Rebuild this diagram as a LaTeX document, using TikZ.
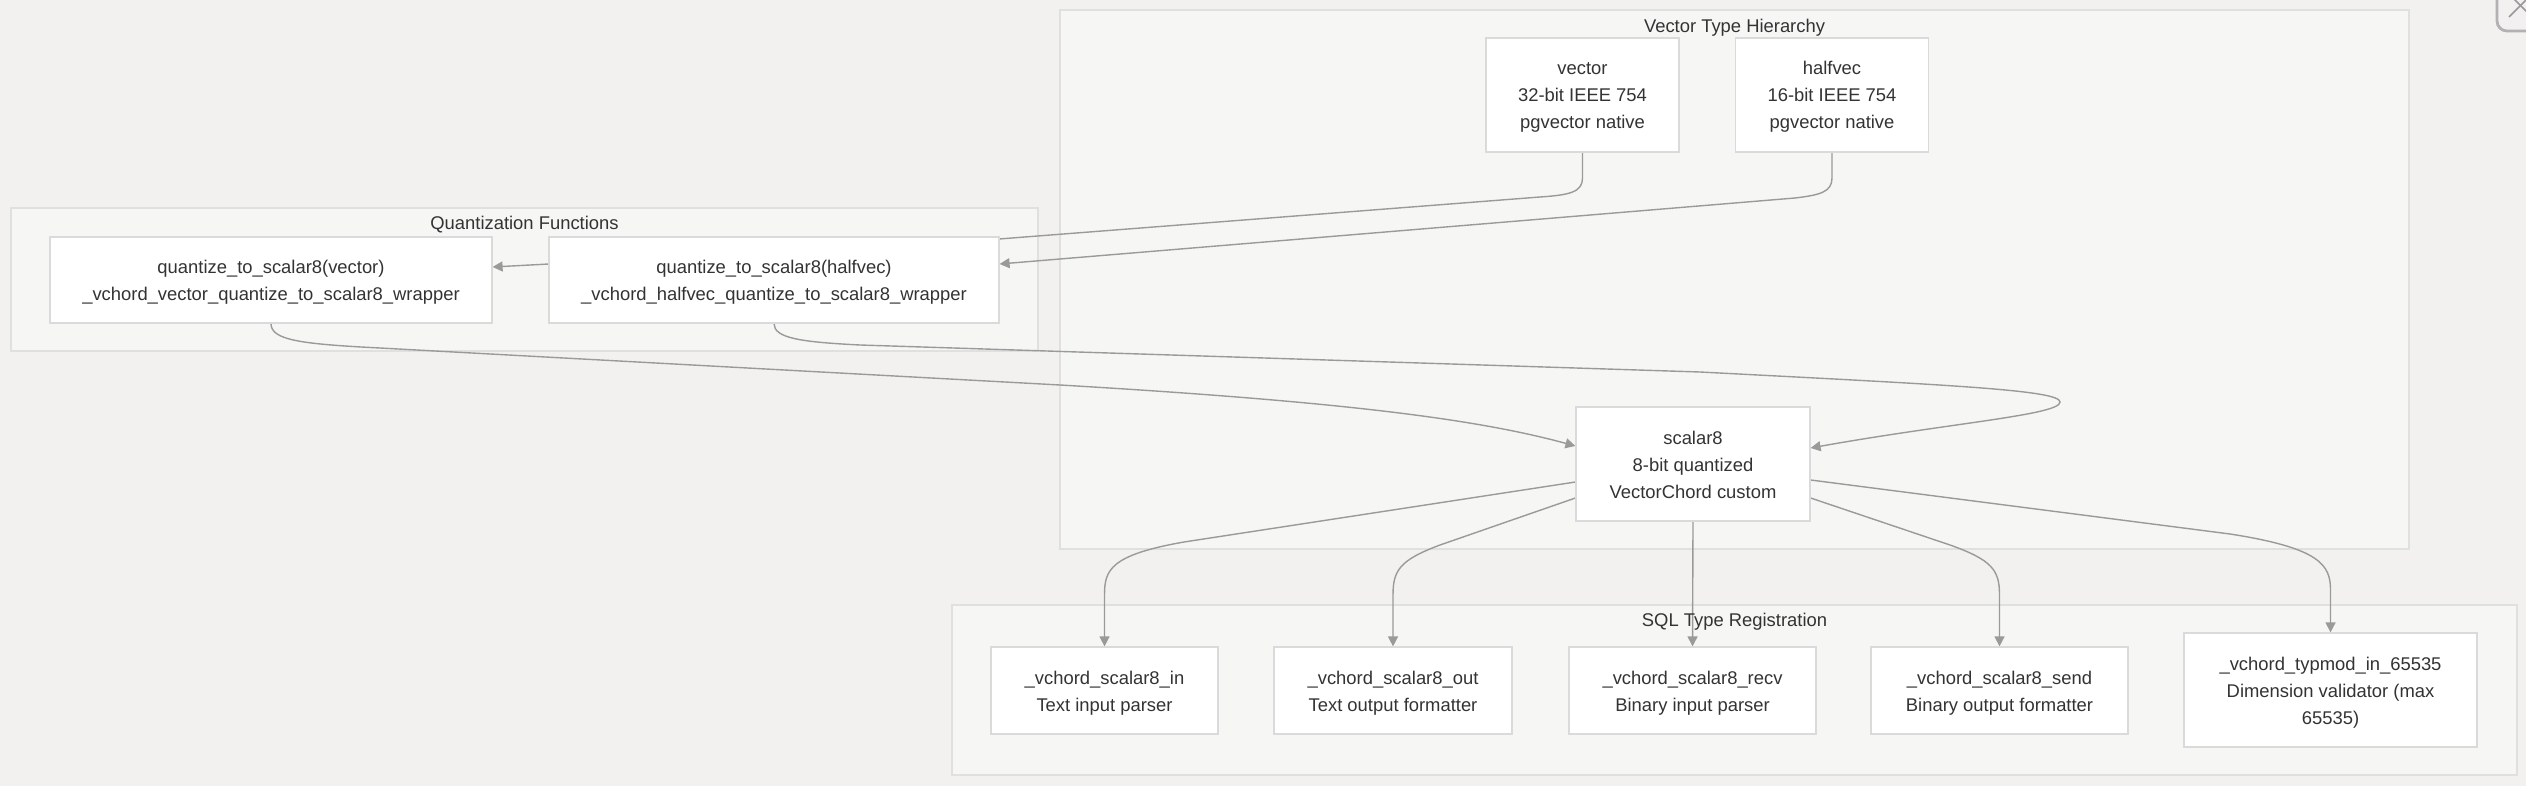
\documentclass[tikz,border=0pt]{standalone}
\usepackage{fontspec}
\setmainfont{Liberation Sans}
\usetikzlibrary{arrows.meta,calc}
\pgfdeclarelayer{bg}
\pgfdeclarelayer{edges}
\pgfsetlayers{bg,edges,main}
\definecolor{bgc}{HTML}{F2F1F0}
\definecolor{clfill}{HTML}{F6F6F5}
\definecolor{cldraw}{HTML}{E0E0E0}
\definecolor{nodedraw}{HTML}{DADADA}
\definecolor{edgec}{HTML}{9A9A9A}
\definecolor{txt}{HTML}{333333}
\newcommand{\tsA}{\rule{0pt}{9pt}}
\newcommand{\tsB}{\rule[-2pt]{0pt}{2pt}}
\tikzset{
  box/.style={draw=nodedraw, fill=white, line width=0.6pt, inner sep=0pt, align=center, text=txt,
    font=\fontsize{9.2pt}{13.5pt}\selectfont},
  cluster/.style={draw=cldraw, fill=clfill, line width=0.6pt},
  ctitle/.style={inner sep=0pt, text=txt, font=\fontsize{9.2pt}{13.5pt}\selectfont},
  edge/.style={draw=edgec, line width=0.7pt, -{Triangle[length=5pt,width=5pt]}}
}
\begin{document}
\begin{tikzpicture}[x=0.5pt,y=-0.5pt]
\useasboundingbox (0,0) rectangle (2526,786);
\begin{pgfonlayer}{bg}
\fill[bgc] (0,0) rectangle (2526,786);
% clusters
\draw[cluster] (1060,10) rectangle (2409,549);
\draw[cluster] (11,208) rectangle (1038,351);
\draw[cluster] (952,605) rectangle (2517,775);
% close icon (partial)
\draw[draw=gray!60, line width=1.4pt, rounded corners=5pt] (2497,-12) rectangle (2550,31);
\draw[draw=gray!80, line width=0.8pt] (2509,17) -- (2530,-4);
\draw[draw=gray!80, line width=0.8pt] (2513,-2) -- (2530,15);
\end{pgfonlayer}

\node[ctitle] (tvth) at (1734.5,28) {Vector Type Hierarchy};
\node[ctitle] (tqf) at (524.5,225) {Quantization Functions};
\node[ctitle] (tsql) at (1734.5,622) {SQL Type Registration};

% nodes
\node[box, minimum width=96.5pt, minimum height=57pt] (vec) at (1582.5,95) {\tsA vector\\32-bit IEEE 754\\pgvector native\tsB};
\node[box, minimum width=96.5pt, minimum height=57pt] (hv) at (1832,95) {\tsA halfvec\\16-bit IEEE 754\\pgvector native\tsB};
\node[box, minimum width=221pt, minimum height=43pt] (qv) at (271,280) {\tsA quantize\_to\_scalar8(vector)\\\_vchord\_vector\_quantize\_to\_scalar8\_wrapper\tsB};
\node[box, minimum width=225pt, minimum height=43pt] (qh) at (774,280) {\tsA quantize\_to\_scalar8(halfvec)\\\_vchord\_halfvec\_quantize\_to\_scalar8\_wrapper\tsB};
\node[box, minimum width=117pt, minimum height=57pt] (s8) at (1693,464) {\tsA scalar8\\8-bit quantized\\VectorChord custom\tsB};
\node[box, minimum width=113.5pt, minimum height=43.5pt] (in) at (1104.5,690.5) {\tsA\_vchord\_scalar8\_in\\Text input parser\tsB};
\node[box, minimum width=119pt, minimum height=43.5pt] (out) at (1393,690.5) {\tsA\_vchord\_scalar8\_out\\Text output formatter\tsB};
\node[box, minimum width=123.5pt, minimum height=43.5pt] (recv) at (1692.5,690.5) {\tsA\_vchord\_scalar8\_recv\\Binary input parser\tsB};
\node[box, minimum width=128.5pt, minimum height=43.5pt] (send) at (1999.5,690.5) {\tsA\_vchord\_scalar8\_send\\Binary output formatter\tsB};
\node[box, minimum width=146.5pt, minimum height=57pt] (tm) at (2330.5,690) {\tsA\_vchord\_typmod\_in\_65535\\Dimension validator (max\\65535)\tsB};

\begin{pgfonlayer}{edges}
\draw[edge] (vec.south) -- (1582.5,178) .. controls (1582.5,192) and (1570,195) .. (1540,197) -- (999,239) .. controls (800,254) and (650,261) .. (549,264) -- ($(qv.east)+(0,-13)$);
\draw[edge] (hv.south) -- (1832,178) .. controls (1832,192) and (1820,195) .. (1795,198) -- ($(qh.east)+(0,-16)$);
\draw[edge] (qv.south) .. controls (271,340) and (300,344) .. (380,348) -- (1060,385) .. controls (1350,402) and (1480,420) .. ($(s8.west)+(0,-18)$);
\draw[edge] (qh.south) .. controls (774,338) and (800,342) .. (860,345) -- (1700,372) .. controls (1950,385) and (2060,390) .. (2060,402) .. controls (2060,415) and (1950,423) .. ($(s8.east)+(0,-16)$);
\draw[edge] ($(s8.west)+(0,18)$) -- (1184,542) .. controls (1110,555) and (1104.5,570) .. (1104.5,595) -- (in.north);
\draw[edge] ($(s8.west)+(0,34)$) -- (1440,545) .. controls (1400,560) and (1393,570) .. (1393,595) -- (out.north);
\draw[edge] (s8.south) -- (recv.north);
\draw[edge] ($(s8.east)+(0,34)$) -- (1950,545) .. controls (1992,560) and (1999.5,570) .. (1999.5,595) -- (send.north);
\draw[edge] ($(s8.east)+(0,16)$) -- (2230,534) .. controls (2320,548) and (2330.5,565) .. (2330.5,590) -- (tm.north);
\end{pgfonlayer}
\end{tikzpicture}
\end{document}
